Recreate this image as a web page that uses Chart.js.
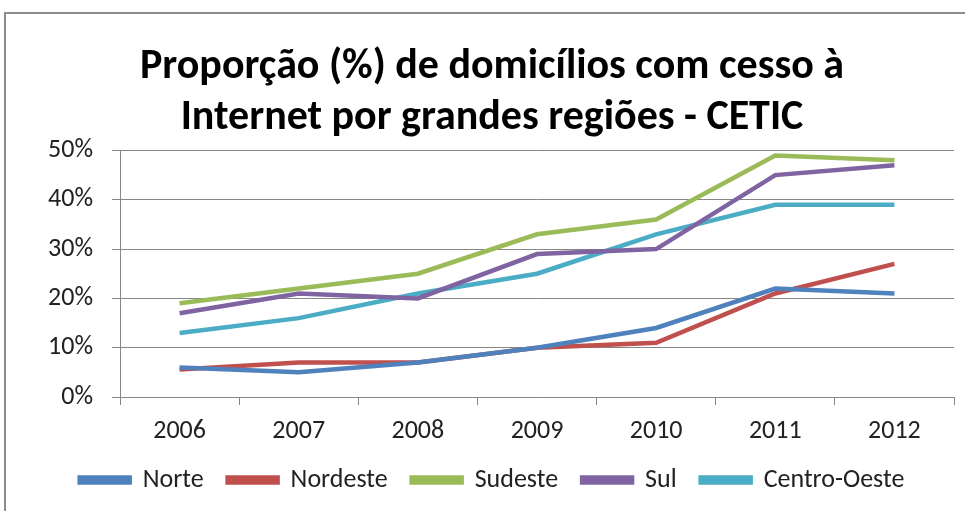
<!DOCTYPE html>
<html>
<head>
<meta charset="utf-8">
<script src="https://cdn.jsdelivr.net/npm/chart.js@4/dist/chart.umd.min.js"></script>
<style>
  html, body { margin: 0; padding: 0; background: #fff; overflow: hidden; }
  #frame { position: absolute; left: 4px; top: 12px; width: 990px; height: 530px; border: 2px solid #8c8c8c; }
  #wrap { position: absolute; left: 6px; top: 14px; width: 959px; height: 497px; }
</style>
</head>
<body>
<div id="frame"></div>
<div id="wrap"><canvas id="graf"></canvas></div>
<script>
// dados (%)
var anos = ['2006', '2007', '2008', '2009', '2010', '2011', '2012'];
var norte = [6, 5, 7, 10, 14, 22, 21];
var nordeste = [5.6, 7, 7, 10, 11, 21, 27];
var sudeste = [19, 22, 25, 33, 36, 49, 48];
var sul = [17, 21, 20, 29, 30, 45, 47];
var centroOeste = [13, 16, 21, 25, 33, 39, 39];
var ticksY = [0, 10, 20, 30, 40, 50];

var fonte = "Carlito, 'Liberation Sans Narrow', 'DejaVu Sans Condensed', sans-serif";

function serie(nome, valores, cor) {
    return {
        label: nome,
        data: valores,
        borderColor: cor,
        backgroundColor: cor,
        borderWidth: 4.5,
        pointRadius: 0,
        tension: 0,
        fill: false
    };
}

var ctx = document.getElementById('graf').getContext('2d');
var grafico = new Chart(ctx, {
    type: 'line',
    data: {
        labels: anos,
        datasets: [
            serie('Norte', norte, '#4f81bd'),
            serie('Nordeste', nordeste, '#c0504d'),
            serie('Sudeste', sudeste, '#9bbb59'),
            serie('Sul', sul, '#8064a2'),
            serie('Centro-Oeste', centroOeste, '#4bacc6')
        ]
    },
    options: {
        responsive: true,
        maintainAspectRatio: false,
        animation: false,
        layout: { padding: { left: 24, right: 11, top: 0, bottom: 8 } },
        plugins: {
            title: {
                display: true,
                text: ['Proporção (%) de domicílios com cesso à', 'Internet por grandes regiões - CETIC'],
                color: '#000',
                font: { family: fonte, size: 42, weight: 'bold', lineHeight: 1.22 },
                padding: { top: 28, bottom: 6 }
            },
            legend: {
                position: 'bottom',
                labels: {
                    boxWidth: 50,
                    boxHeight: 5,
                    padding: 24,
                    color: '#222',
                    font: { family: fonte, size: 26 }
                }
            },
            tooltip: { enabled: false }
        },
        scales: {
            x: {
                offset: true,
                afterFit: function (axis) { axis.height = 46; },
                grid: { offset: true, drawOnChartArea: false, drawTicks: true, tickLength: 8, color: '#868686' },
                border: { color: '#868686', width: 1 },
                ticks: { color: '#222', padding: 11, font: { family: fonte, size: 26 } }
            },
            y: {
                min: 0,
                max: 50,
                afterBuildTicks: function (axis) {
                    axis.ticks = ticksY.map(function (v) { return { value: v }; });
                },
                afterFit: function (axis) { axis.width = 90; },
                grid: { color: '#868686', lineWidth: 1, tickLength: 8 },
                border: { color: '#868686', width: 1 },
                ticks: {
                    color: '#222',
                    padding: 19,
                    font: { family: fonte, size: 26 },
                    callback: function (v) { return v + '%'; }
                }
            }
        }
    }
});
</script>
</body>
</html>
